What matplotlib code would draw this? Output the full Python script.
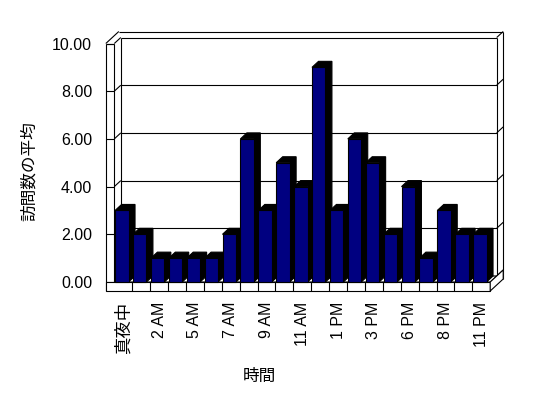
import matplotlib
matplotlib.use('Agg')
import matplotlib.pyplot as plt
from matplotlib.patches import Polygon

plt.rcParams['font.family'] = ['Liberation Sans', 'Noto Sans CJK JP', 'DejaVu Sans']

# ---- data ----
values = [3, 2, 1, 1, 1, 1, 2, 6, 3, 5, 4, 9, 3, 6, 5, 2, 4, 1, 3, 2, 2]
tick_labels = ['真夜中', '2 AM', '5 AM', '7 AM', '9 AM', '11 AM',
               '1 PM', '3 PM', '6 PM', '8 PM', '11 PM']
tick_positions = list(range(0, len(values), 2))
y_ticks = [0, 2, 4, 6, 8, 10]
x_title = '時間'
y_title = '訪問数の平均'

# ---- layout (pixels) ----
W, H = 548, 398
AX_L, AX_R, AX_B, AX_T = 114.3, 490.2, 282.0, 43.5
fig = plt.figure(figsize=(W / 100, H / 100), dpi=100)
fig.patch.set_facecolor('white')
ax = fig.add_axes([AX_L / W, 1 - AX_B / H, (AX_R - AX_L) / W, (AX_B - AX_T) / H])
n = len(values)
ymax = y_ticks[-1]
ax.set_xlim(-0.5, n - 0.5)
ax.set_ylim(0, ymax)
ax.set_facecolor('none')
for s in ax.spines.values():
    s.set_visible(False)

SX = (AX_R - AX_L) / n
SY = (AX_B - AX_T) / ymax
def dx(p):
    return p / SX
def dy(p):
    return p / SY

DX, DY = dx(6.5), dy(6.0)          # depth vector
LW = 0.8
xi = -0.5                           # inner front edge of left wall
xo = xi - dx(8.5)                   # outer front edge of left wall
xr = n - 0.5                        # right front end of floor
fb = -dy(9)                         # floor bottom

def line(xs, ys, z=1):
    ax.plot(xs, ys, color='black', lw=LW, clip_on=False, zorder=z,
            solid_capstyle='butt')

# walls
line([xo, xo], [fb, ymax])
line([xi, xi], [0, ymax])
line([xi + DX, xi + DX], [DY, ymax + DY])
line([xo, xi], [ymax, ymax])
line([xo, xo + 2 * DX], [ymax, ymax + 2 * DY])
line([xo + 2 * DX, xr + 2 * DX], [ymax + 2 * DY, ymax + 2 * DY])
line([xr + DX, xr + DX], [DY, ymax + DY])
line([xr + 2 * DX, xr + 2 * DX], [fb + 2 * DY, ymax + 2 * DY])
for v in y_ticks:
    line([xo, xi], [v, v])
    line([xi, xi + DX], [v, v + DY])
    line([xi + DX, xr + DX], [v + DY, v + DY])
    line([xr + DX, xr + 2 * DX], [v + DY, v + 2 * DY])

# floor
ax.add_patch(Polygon([(xi, 0), (xr, 0), (xr + DX, DY), (xi + DX, DY)],
                     closed=True, facecolor='white', edgecolor='black',
                     lw=LW, clip_on=False, zorder=1.2))
ax.add_patch(Polygon([(xo, fb), (xr, fb), (xr, 0), (xo, 0)],
                     closed=True, facecolor='white', edgecolor='black',
                     lw=LW, clip_on=False, zorder=1.2))
ax.add_patch(Polygon([(xr, fb), (xr + 2 * DX, fb + 2 * DY), (xr + 2 * DX, 2 * DY),
                      (xr + DX, DY), (xr, 0)],
                     closed=True, facecolor='white', edgecolor='black',
                     lw=LW, clip_on=False, zorder=1.2))
for i in range(n - 1):
    line([i + 0.5, i + 0.5], [fb, 0], z=1.3)

# bars
BW = 0.75
lefts = [i - 0.5 + 0.045 for i in range(n)]
for l, v in zip(lefts, values):
    r = l + BW
    ax.add_patch(Polygon([(l, v), (l + DX, v + DY), (r + DX, v + DY),
                          (r + DX, DY), (r, 0), (r, v)],
                         closed=True, facecolor='black', edgecolor='black',
                         lw=LW, clip_on=False, zorder=2))
ax.bar(lefts, values, width=BW, align='edge', color='#000080',
       edgecolor='black', linewidth=LW, zorder=3, clip_on=False)

# ticks
ax.set_xticks(tick_positions)
ax.set_xticklabels(tick_labels, rotation=90, fontsize=11.5)
ax.tick_params(axis='x', length=0, pad=14)
ax.get_xticklabels()[0].set_fontsize(12.5)
ax.set_yticks(y_ticks)
ax.set_yticklabels([f'{v:.2f}' for v in y_ticks], fontsize=11.5)
ax.tick_params(axis='y', length=0, pad=16)

ax.set_xlabel(x_title, fontsize=12)
ax.xaxis.label.set_va('center')
ax.xaxis.set_label_coords((259 - AX_L) / (AX_R - AX_L), -(376 - AX_B) / (AX_B - AX_T))
ax.set_ylabel(y_title, fontsize=12)
ax.yaxis.label.set_va('center')
ax.yaxis.set_label_coords((29 - AX_L) / (AX_R - AX_L), (AX_B - 171) / (AX_B - AX_T))

fig.savefig('out.png', dpi=100, facecolor='white')
